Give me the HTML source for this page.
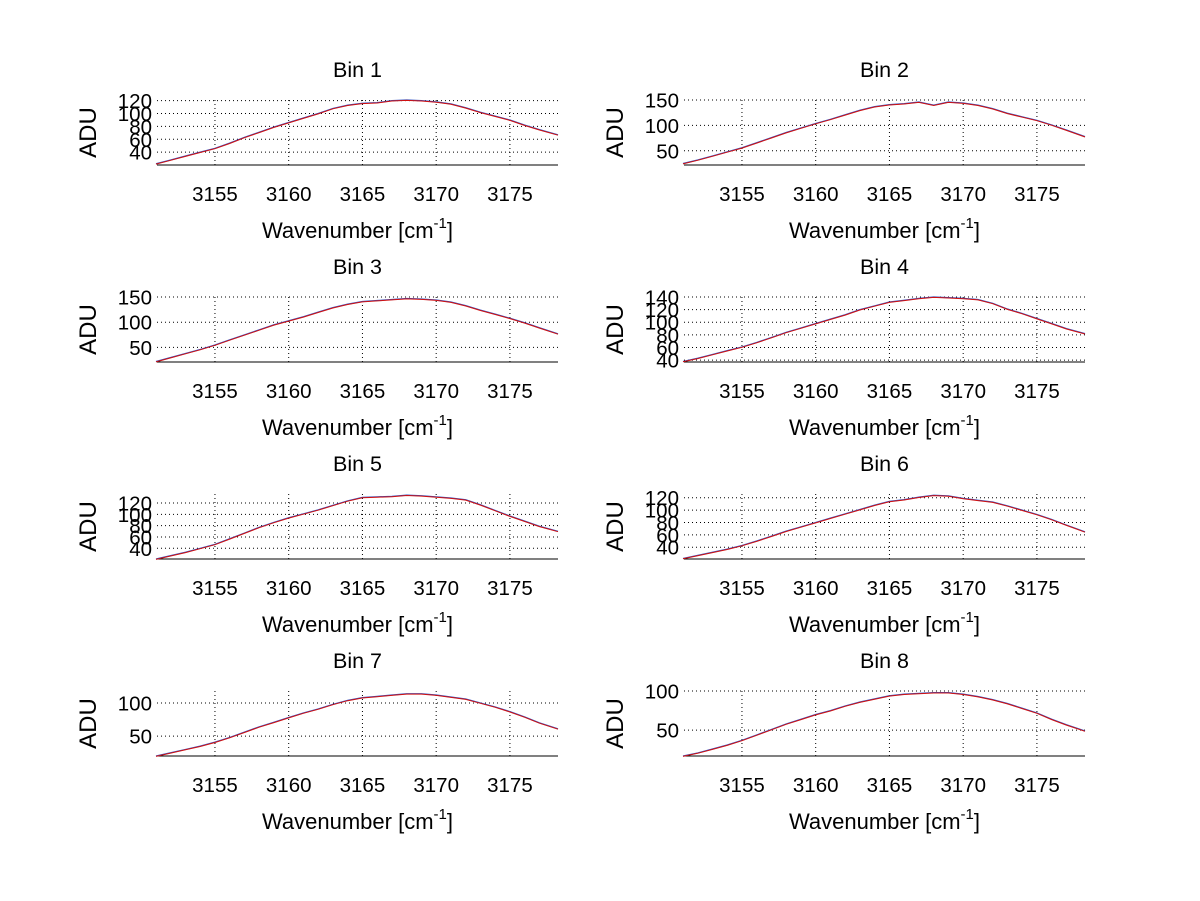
<!DOCTYPE html>
<html><head><meta charset="utf-8"><style>
body{margin:0;background:#fff;}
svg{display:block;font-family:"Liberation Sans",sans-serif;}
</style></head><body>
<svg id="fig" width="1200" height="901" viewBox="0 0 1200 901" xmlns="http://www.w3.org/2000/svg"></svg>
<script>
const wavenumbers=[3151,3152,3153,3154,3155,3156,3157,3158,3159,3160,3161,3162,3163,3164,3165,3166,3167,3168,3169,3170,3171,3172,3173,3174,3175,3176,3177,3178.26];
const xTicks=[3155,3160,3165,3170,3175];
const bin1=[22,28,34,40,46,54,63,71,79,86,93,100,108,113,116,117,120,121,120,118,115,109,102,96,90,82,75,67];
const bin2=[25,32,40,48,56,66,76,86,95,104,112,121,130,137,141,143,146,140,146,144,140,133,124,117,110,101,91,78];
const bin3=[22,30,38,46,55,65,75,85,95,103,111,120,129,136,141,143,145,147,146,144,140,133,124,116,108,99,89,77];
const bin4=[38,43,49,55,61,68,76,84,91,98,105,112,120,126,132,135,138,140,139,138,136,130,121,114,106,98,90,82];
const bin5=[21,27,33,40,47,57,67,77,86,94,101,108,116,124,130,131,132,134,133,131,129,126,117,107,97,88,79,70];
const bin6=[22,27,32,37,43,50,58,66,73,80,87,94,101,108,114,117,121,124,123,119,116,113,107,100,93,85,76,65];
const bin7=[20,25,30,35,41,48,56,64,71,78,85,91,98,104,108,110,112,114,114,112,109,106,100,94,87,79,70,61];
const bin8=[17,21,26,31,37,44,51,58,64,70,75,81,86,90,94,96,97,98,98,96,93,89,84,78,72,64,57,49];
const yTicks1=[40,60,80,100,120], yTicks2=[50,100,150], yTicks3=[50,100,150], yTicks4=[40,60,80,100,120,140];
const yTicks5=[40,60,80,100,120], yTicks6=[40,60,80,100,120], yTicks7=[50,100], yTicks8=[50,100];
const panels=[
 {t:"Bin 1",d:bin1,yt:yTicks1,yl:[20,121],c:0,r:0},
 {t:"Bin 2",d:bin2,yt:yTicks2,yl:[22,150],c:1,r:0},
 {t:"Bin 3",d:bin3,yt:yTicks3,yl:[21,150],c:0,r:1},
 {t:"Bin 4",d:bin4,yt:yTicks4,yl:[37,140],c:1,r:1},
 {t:"Bin 5",d:bin5,yt:yTicks5,yl:[21,136],c:0,r:2},
 {t:"Bin 6",d:bin6,yt:yTicks6,yl:[21,126],c:1,r:2},
 {t:"Bin 7",d:bin7,yt:yTicks7,yl:[20,118],c:0,r:3},
 {t:"Bin 8",d:bin8,yt:yTicks8,yl:[17,100],c:1,r:3}];
const NS="http://www.w3.org/2000/svg";
const svg=document.getElementById('fig');
function mk(tag,attrs,parent,txt){const e=document.createElementNS(NS,tag);for(const k in attrs)e.setAttribute(k,attrs[k]);if(txt!==undefined)e.textContent=txt;parent.appendChild(e);return e;}
const XL=3151.07,XR=3178.26;
panels.forEach((p,i)=>{
 const x0=p.c?684:157,x1=p.c?1085:558,y0=100+p.r*197,y1=y0+65;
 const sx=v=>x0+(v-XL)/(XR-XL)*(x1-x0);
 const sy=v=>y1-(v-p.yl[0])/(p.yl[1]-p.yl[0])*(y1-y0);
 const g=mk('g',{},svg);
 
 
 xTicks.forEach(t=>{const l=mk('line',{x1:sx(t),x2:sx(t),y1:y0,y2:y1,stroke:'#000','stroke-width':1,'stroke-dasharray':'1,3'},g);
  
  const tx=mk('text',{x:sx(t),y:y1+36,'text-anchor':'middle','font-size':20.5},g,String(t));
  });
 p.yt.forEach(t=>{const l=mk('line',{x1:x0,x2:x1,y1:sy(t),y2:sy(t),stroke:'#000','stroke-width':1,'stroke-dasharray':'1,3'},g);
  
  const tx=mk('text',{x:x0-5,y:sy(t)+7.5,'text-anchor':'end','font-size':20.5},g,String(t));
  });
 const ax=mk('line',{x1:x0,x2:x1,y1:y1,y2:y1,stroke:'#000','stroke-width':1},g);
 
 const pts=p.d.map((v,j)=>sx(wavenumbers[j]).toFixed(1)+','+sy(v).toFixed(1)).join(' ');
 const b=mk('polyline',{points:pts,fill:'none',stroke:'#3050c0','stroke-width':1.2},g);
 
 const r=mk('polyline',{points:pts,fill:'none',stroke:'#d01010','stroke-width':1,transform:'translate(0,0.4)'},g);
 
 const ti=mk('text',{x:(x0+x1)/2,y:y0-23,'text-anchor':'middle','font-size':21.5},g,p.t);
 
 const xl=mk('text',{x:(x0+x1)/2,y:y1+73,'text-anchor':'middle','font-size':22},g);
 
 xl.innerHTML='Wavenumber [cm<tspan dy="-10" font-size="15">-1</tspan><tspan dy="10">]</tspan>';
 const yl=mk('text',{x:0,y:0,'text-anchor':'middle','font-size':24,transform:`translate(${x0-61},${(y0+y1)/2}) rotate(-90)`},g,'ADU');
 
});
</script>
</body></html>
